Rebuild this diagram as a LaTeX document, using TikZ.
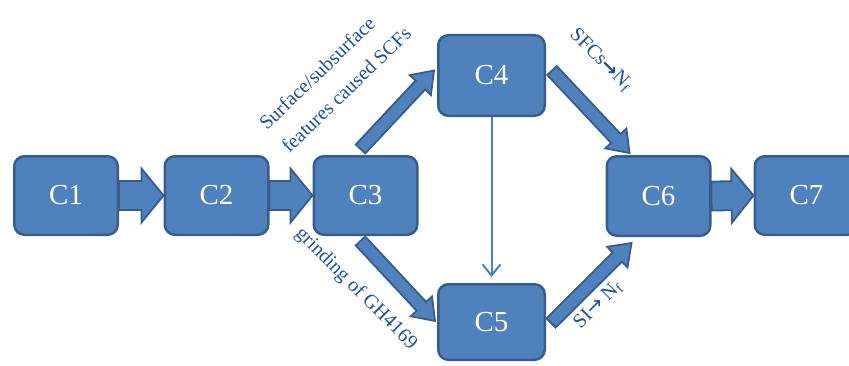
\documentclass[tikz,border=0pt]{standalone}
\usepackage{fontspec}
\setmainfont{Liberation Serif}
\newfontfamily\arrfont{DejaVu Sans}
\usetikzlibrary{calc,arrows.meta}
\definecolor{boxfill}{HTML}{4F81BD}
\definecolor{boxborder}{HTML}{385D8A}
\definecolor{labelblue}{HTML}{22508F}
\newcommand\fatarrow[5]{% #1 from, #2 to, #3 half shaft, #4 half head, #5 head length
  \coordinate (faA) at #1;
  \coordinate (faB) at #2;
  \coordinate (faH) at ($(faB)!#5!(faA)$);
  \draw[fatarr] ($(faA)!#3!90:(faB)$) -- ($(faH)!#3!90:(faB)$) -- ($(faH)!#4!90:(faB)$)
    -- (faB) -- ($(faH)!#4!-90:(faB)$) -- ($(faH)!#3!-90:(faB)$) -- ($(faA)!#3!-90:(faB)$) -- cycle;}
\tikzset{
  box/.style={draw=boxborder, fill=boxfill, line width=2.5pt, rounded corners=10pt,
    minimum width=103.5pt, minimum height=78.5pt, text=white, inner sep=0pt,
    font=\fontsize{29}{30}\selectfont},
  fatarr/.style={draw=boxborder, fill=boxfill, line width=1.8pt, line join=miter},
  thinarr/.style={draw=boxfill, line width=2pt, -{Straight Barb[length=11pt,width=18pt,line width=2pt]}, shorten >=6pt},
  lab/.style={text=labelblue, font=\fontsize{20}{32}\selectfont, inner sep=0pt}
}
\begin{document}
\begin{tikzpicture}[x=1pt,y=1pt]
\useasboundingbox (0,0) rectangle (849,365);
\fill[white] (0,0) rectangle (849,365);
\node[box] (C1) at (66,169.5) {C1};
\node[box] (C2) at (216.5,169.5) {C2};
\node[box] (C3) at (365.5,169.5) {C3};
\node[box, minimum width=106.5pt, minimum height=80.5pt] (C4) at (491.5,289.5) {C4};
\node[box, minimum width=106.5pt, minimum height=75.5pt] (C5) at (491.5,43) {C5};
\node[box, minimum height=79.5pt] (C6) at (658.5,169) {C6};
\node[box] (C7) at (806.5,169.5) {C7};
% horizontal fat arrows
\fatarrow{(C1.east)}{(C2.west)}{14.5pt}{27pt}{22pt}
\fatarrow{(C2.east)}{(C3.west)}{14.5pt}{27pt}{22pt}
\fatarrow{(C6.east)}{(C7.west)}{14.5pt}{27pt}{22pt}
% diagonal fat arrows
\fatarrow{($(C3.north)+(-5,6)$)}{($(C4.west)+(-3,5)$)}{6.5pt}{14.5pt}{20pt}
\fatarrow{($(C3.south)+(-5,-5)$)}{($(C5.west)+(-2,1)$)}{6.5pt}{14.5pt}{20pt}
\fatarrow{($(C4.east)+(6,5)$)}{($(C6.north west)+(24,2)$)}{6.5pt}{14.5pt}{20pt}
\fatarrow{($(C5.east)+(5,-1)$)}{($(C6.south west)+(26,-6)$)}{6.5pt}{14.5pt}{20pt}
% thin arrow
\draw[thinarr] (C4.south) -- (C5.north);
% labels
\node[lab, rotate=44, align=left] (L1) at (335,287) {Surface/subsurface\\features caused SCFs};
\node[lab, rotate=-45] (L2) at (356,76) {grinding of GH4169};
\node[lab, rotate=-45] (L3) at (601,305) {SFCs{\arrfont\bfseries →}N\textsubscript{f}};
\node[lab, rotate=45] (L4) at (598,60) {SI{\arrfont →} N\textsubscript{f}};
\end{tikzpicture}
\end{document}
